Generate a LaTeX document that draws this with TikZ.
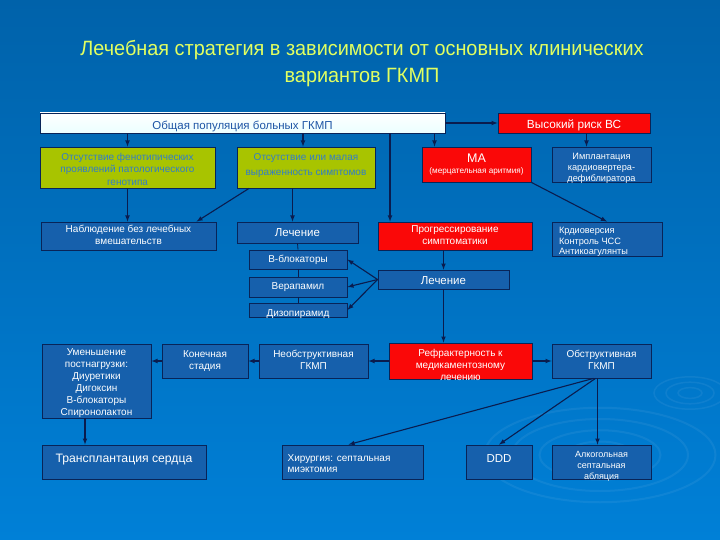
\documentclass[tikz,border=0pt]{standalone}
\usepackage{fontspec}
\setmainfont{Liberation Sans}
\newfontfamily\titlefont[FakeStretch=0.96]{Liberation Sans}
\usetikzlibrary{arrows}

\definecolor{bgtop}{RGB}{0,98,170}
\definecolor{bgbot}{RGB}{0,128,215}
\definecolor{boxblue}{RGB}{22,96,172}
\definecolor{boxline}{RGB}{8,36,88}
\definecolor{boxred}{RGB}{250,8,8}
\definecolor{boxgreen}{RGB}{168,196,0}
\definecolor{greentext}{RGB}{50,125,200}
\definecolor{poptext}{RGB}{30,85,165}
\definecolor{titletext}{RGB}{226,255,96}
\definecolor{arrline}{RGB}{10,28,78}

% shift box text down without changing its size
\newcommand{\sinktext}[2]{\raisebox{-#1}[\height][\depth]{#2}}
\newcommand{\boxlines}[1]{\begin{tabular}{@{}c@{}}#1\end{tabular}}
\newcommand{\leftboxlines}[1]{\begin{tabular}{@{}l@{}}#1\end{tabular}}

\tikzset{
	box/.style={draw=boxline,line width=0.8pt,fill=boxblue,text=white,inner sep=0pt,align=center,font=\fontsize{10}{12}\selectfont},
	redbox/.style={box,fill=boxred},
	greenbox/.style={box,fill=boxgreen,text=greentext},
	arr/.style={draw=arrline,line width=1.1pt,-latex},
	link/.style={draw=arrline,line width=0.8pt}
}

\begin{document}
\begin{tikzpicture}[x=1pt,y=-1pt]
	% background
	\shade[top color=bgtop,bottom color=bgbot] (0,0) rectangle (720,540);
	\useasboundingbox (0,0) rectangle (720,540);
	\foreach \r in {30,55,80,105}
		\draw[white,opacity=0.06,line width=2pt] (600,455) ellipse ({\r*1.1} and {\r*0.45});
	\foreach \r in {12,24,36}
		\draw[white,opacity=0.06,line width=1.5pt] (690,393) ellipse ({\r} and {\r*0.45});

	% title
	\node[text=titletext,align=center,font=\titlefont\fontsize{20.7}{27}\selectfont] (title) at (362,64)
		{Лечебная стратегия в зависимости от основных клинических\\вариантов ГКМП};

	% top row
	\node[box,top color=white,bottom color=cyan!8,text=poptext,minimum width=405pt,minimum height=20pt,font=\fontsize{11.5}{13}\selectfont] (pop) at (242.5,123) {\sinktext{3pt}{Общая популяция больных ГКМП}};
	\node[redbox,minimum width=152pt,minimum height=20pt,font=\fontsize{11.8}{13}\selectfont] (risk) at (574,123) {\sinktext{2.5pt}{Высокий риск ВС}};

	\node[greenbox,minimum width=175pt,minimum height=41pt,font=\fontsize{10}{12.5}\selectfont] (nofen) at (127.5,167.5) {\sinktext{3pt}{\boxlines{Отсутствие фенотипических\\проявлений патологического\\генотипа}}};
	\node[greenbox,minimum width=138pt,minimum height=41pt,font=\fontsize{10}{15}\selectfont] (mild) at (306,167.5) {\sinktext{-2pt}{\boxlines{Отсутствие или малая\\выраженность симптомов}}};
	\node[redbox,minimum width=109pt,minimum height=35pt] (ma) at (476.5,164.5) {{\fontsize{12.5}{14}\selectfont МА}\\[-1pt]{\fontsize{8.2}{9}\selectfont (мерцательная аритмия)}};
	\node[box,minimum width=99pt,minimum height=35pt,font=\fontsize{9.2}{11}\selectfont] (icd) at (601.5,164.5) {\sinktext{3.5pt}{\boxlines{Имплантация\\кардиовертера-\\дефиблиратора}}};

	% second row
	\node[box,minimum width=175pt,minimum height=28pt] (watch) at (128.5,236) {\boxlines{Наблюдение без лечебных\\вмешательств}};
	\node[box,minimum width=121pt,minimum height=21pt,font=\fontsize{11.5}{13}\selectfont] (treatL) at (297.5,232.5) {Лечение};
	\node[redbox,minimum width=154pt,minimum height=28pt] (prog) at (455,236) {\boxlines{Прогрессирование\\симптоматики}};
	\node[box,minimum width=110pt,minimum height=34pt,font=\fontsize{9.2}{10.5}\selectfont] (cardio) at (607,239)
		{\sinktext{3pt}{\leftboxlines{Крдиоверсия\\Контроль ЧСС\\Антикоагулянты}}\hspace{27pt}};

	% drugs
	\node[box,minimum width=98pt,minimum height=19pt] (bb) at (298,259.5) {В-блокаторы};
	\node[box,minimum width=98pt,minimum height=20pt] (vera) at (298,287) {Верапамил};
	\node[box,minimum width=98pt,minimum height=14pt] (dizo) at (298,310) {\sinktext{4pt}{Дизопирамид}};
	\node[box,minimum width=131pt,minimum height=19pt,font=\fontsize{11.5}{13}\selectfont] (treatR) at (443.5,279.5) {\sinktext{1pt}{Лечение}};

	% third row
	\node[box,minimum width=109pt,minimum height=74pt] (reduce) at (96.5,381) {\sinktext{2.5pt}{\boxlines{Уменьшение\\постнагрузки:\\Диуретики\\Дигоксин\\В-блокаторы\\Спиронолактон}}};
	\node[box,minimum width=86pt,minimum height=34pt] (endst) at (205,361) {\boxlines{Конечная\\стадия}};
	\node[box,minimum width=109pt,minimum height=34pt] (nonobstr) at (313.5,361) {\boxlines{Необструктивная\\ГКМП}};
	\node[redbox,minimum width=143pt,minimum height=34pt] (refr) at (460.5,361) {\sinktext{5pt}{\boxlines{Рефрактерность к\\медикаментозному\\лечению}}};
	\node[box,minimum width=99pt,minimum height=34pt] (obstr) at (601.5,361) {\boxlines{Обструктивная\\ГКМП}};

	% bottom row
	\node[box,minimum width=164pt,minimum height=34pt,font=\fontsize{12.2}{14}\selectfont] (transpl) at (124,462) {\sinktext{-2pt}{Трансплантация сердца}};
	\node[box,minimum width=141pt,minimum height=34pt,font=\fontsize{10}{10.5}\selectfont] (surg) at (352.5,462)
		{\sinktext{3pt}{\leftboxlines{Хирургия: септальная\\миэктомия}}\hspace{27pt}};
	\node[box,minimum width=66pt,minimum height=34pt,font=\fontsize{11.5}{13}\selectfont] (ddd) at (499,462) {\sinktext{-3pt}{DDD}};
	\node[box,minimum width=99pt,minimum height=34pt,font=\fontsize{9}{11}\selectfont] (abl) at (601.5,462) {\sinktext{4pt}{\boxlines{Алкогольная\\септальная\\абляция}}};

	% connectors
	\draw[arr] (nofen.north |- pop.south) -- (nofen.north);
	\draw[arr] ([xshift=-3pt]mild.north |- pop.south) -- ([xshift=-3pt]mild.north);
	\draw[arr] ([xshift=-42pt]ma.north |- pop.south) -- ([xshift=-42pt]ma.north);
	\draw[arr] ([xshift=-65pt]prog.north |- pop.south) -- ([xshift=-65pt]prog.north);
	\draw[arr] (pop.east) -- (risk.west);
	\draw[arr] ([xshift=-15pt]icd.north |- risk.south) -- ([xshift=-15pt]icd.north);
	\draw[arr] (nofen.south) -- (watch.north -| nofen.south);
	\draw[arr] ([xshift=-57pt]mild.south) -- ([xshift=68pt]watch.north);
	\draw[arr] ([xshift=-5pt]treatL.north |- mild.south) -- ([xshift=-5pt]treatL.north);
	\draw[arr] (ma.south east) -- (cardio.north);
	\draw[link] (treatL.south) -- (bb.north);
	\draw[link] (bb.south) -- (vera.north);
	\draw[link] (vera.south) -- (dizo.north);
	\draw[arr] (treatR.west) -- (bb.east);
	\draw[arr] (treatR.west) -- (vera.east);
	\draw[arr] (treatR.west) -- (dizo.east);
	\draw[arr] (treatR.north |- prog.south) -- (treatR.north);
	\draw[arr] (treatR.south) -- (refr.north -| treatR.south);
	\draw[arr] (refr.west) -- (nonobstr.east);
	\draw[arr] (nonobstr.west) -- (endst.east);
	\draw[arr] (endst.west) -- (reduce.east |- endst.west);
	\draw[arr] ([xshift=-11.5pt]reduce.south) -- ([xshift=-11.5pt]reduce.south |- transpl.north);
	\draw[arr] (refr.east) -- (obstr.west);
	\draw[arr] ([xshift=-8pt]obstr.south) -- ([xshift=-4pt]surg.north);
	\draw[arr] ([xshift=-6pt]obstr.south) -- (ddd.north);
	\draw[arr] ([xshift=-4pt]obstr.south) -- ([xshift=-4pt]abl.north);
\end{tikzpicture}
\end{document}
